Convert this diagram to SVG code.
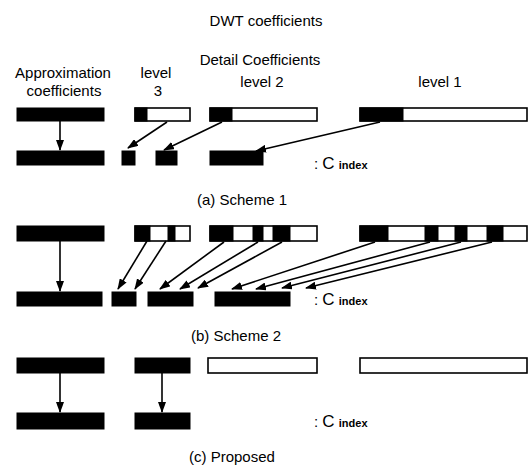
<svg xmlns="http://www.w3.org/2000/svg" width="531" height="472" viewBox="0 0 531 472">
  <style>
    text { font-family: "Liberation Sans", Arial, sans-serif; font-size: 15px; fill: #000; }
    .mid { text-anchor: middle; }
    .cap { font-size: 15px; }
    .blk { fill: #000; stroke: #000; stroke-width: 1; }
    .wht { fill: #fff; stroke: #000; stroke-width: 1.6; }
    .big { font-size: 17px; }
    .sub { font-size: 11px; font-weight: bold; }
    #connectors line { stroke: #000; stroke-width: 1.6; marker-end: url(#head); }
  </style>
  <defs>
    <marker id="head" markerUnits="userSpaceOnUse" markerWidth="11" markerHeight="8" refX="10" refY="4" orient="auto">
      <path d="M0,0 L11,4 L0,8 z" fill="#000"/>
    </marker>
  </defs>

  <rect width="531" height="472" fill="#fff"/>

  <!-- headings -->
  <g id="headings">
    <text class="mid" x="266" y="26">DWT coefficients</text>
    <text class="mid" x="63" y="78">Approximation</text>
    <text class="mid" x="64" y="96">coefficients</text>
    <text class="mid" x="156" y="78">level</text>
    <text class="mid" x="158" y="96">3</text>
    <text class="mid" x="260" y="65">Detail Coefficients</text>
    <text class="mid" x="262" y="87">level 2</text>
    <text class="mid" x="440" y="87">level 1</text>
  </g>

  <!-- (a) Scheme 1 -->
  <g id="scheme1-approx"><rect class="blk" x="17" y="108" width="87" height="13"/></g>
  <g id="scheme1-level3"><rect class="wht" x="135" y="108" width="55" height="13"/><rect class="blk" x="135" y="108" width="12" height="13"/></g>
  <g id="scheme1-level2"><rect class="wht" x="210" y="108" width="107" height="13"/><rect class="blk" x="210" y="108" width="22" height="13"/></g>
  <g id="scheme1-level1"><rect class="wht" x="360" y="108" width="167" height="13"/><rect class="blk" x="360" y="108" width="43" height="13"/></g>
  <g id="scheme1-index">
    <rect class="blk" x="17" y="151" width="87" height="14"/>
    <rect class="blk" x="122" y="151" width="13" height="14"/>
    <rect class="blk" x="156" y="151" width="21" height="14"/>
    <rect class="blk" x="210" y="151" width="53" height="14"/>
    <text x="314" y="169">: <tspan class="big">C</tspan> <tspan class="sub">index</tspan></text>
  </g>
  <g id="caption-a"><text class="cap" x="197" y="205">(a) Scheme 1</text></g>

  <!-- (b) Scheme 2 -->
  <g id="scheme2-approx"><rect class="blk" x="17" y="226" width="87" height="15"/></g>
  <g id="scheme2-level3">
    <rect class="wht" x="135" y="226" width="55" height="15"/>
    <rect class="blk" x="135" y="226" width="15" height="15"/>
    <rect class="blk" x="168" y="226" width="7" height="15"/>
  </g>
  <g id="scheme2-level2">
    <rect class="wht" x="210" y="226" width="107" height="15"/>
    <rect class="blk" x="210" y="226" width="23" height="15"/>
    <rect class="blk" x="253" y="226" width="10" height="15"/>
    <rect class="blk" x="273" y="226" width="17" height="15"/>
  </g>
  <g id="scheme2-level1">
    <rect class="wht" x="360" y="226" width="167" height="15"/>
    <rect class="blk" x="360" y="226" width="28" height="15"/>
    <rect class="blk" x="425" y="226" width="13" height="15"/>
    <rect class="blk" x="455" y="226" width="12" height="15"/>
    <rect class="blk" x="487" y="226" width="16" height="15"/>
  </g>
  <g id="scheme2-index">
    <rect class="blk" x="17" y="292" width="85" height="14"/>
    <rect class="blk" x="112" y="292" width="24" height="14"/>
    <rect class="blk" x="148" y="292" width="45" height="14"/>
    <rect class="blk" x="215" y="292" width="75" height="14"/>
    <text x="314" y="305">: <tspan class="big">C</tspan> <tspan class="sub">index</tspan></text>
  </g>
  <g id="caption-b"><text class="cap" x="191" y="341">(b) Scheme 2</text></g>

  <!-- (c) Proposed -->
  <g id="proposed-approx"><rect class="blk" x="17" y="358" width="87" height="15"/></g>
  <g id="proposed-level3"><rect class="blk" x="135" y="358" width="55" height="15"/></g>
  <g id="proposed-level2"><rect class="wht" x="208" y="358" width="109" height="15"/></g>
  <g id="proposed-level1"><rect class="wht" x="360" y="358" width="167" height="15"/></g>
  <g id="proposed-index">
    <rect class="blk" x="17" y="413" width="87" height="16"/>
    <rect class="blk" x="135" y="413" width="55" height="16"/>
    <text x="314" y="427">: <tspan class="big">C</tspan> <tspan class="sub">index</tspan></text>
  </g>
  <g id="caption-c"><text class="cap" x="189" y="462">(c) Proposed</text></g>

  <!-- connectors -->
  <g id="connectors">
    <line x1="60" y1="121" x2="60" y2="150"/>
    <line x1="167" y1="122" x2="128" y2="148"/>
    <line x1="222" y1="122" x2="164" y2="150"/>
    <line x1="380" y1="122" x2="256" y2="151"/>

    <line x1="60" y1="241" x2="60" y2="291"/>
    <line x1="147" y1="241" x2="118" y2="289"/>
    <line x1="166" y1="241" x2="135" y2="289"/>
    <line x1="224" y1="242" x2="160" y2="289"/>
    <line x1="258" y1="242" x2="180" y2="289"/>
    <line x1="282" y1="242" x2="198" y2="288"/>
    <line x1="375" y1="242" x2="232" y2="289"/>
    <line x1="430" y1="242" x2="256" y2="289"/>
    <line x1="461" y1="242" x2="282" y2="288"/>
    <line x1="492" y1="242" x2="306" y2="288"/>

    <line x1="60" y1="373" x2="60" y2="412"/>
    <line x1="162" y1="373" x2="162" y2="412"/>
  </g>
</svg>
